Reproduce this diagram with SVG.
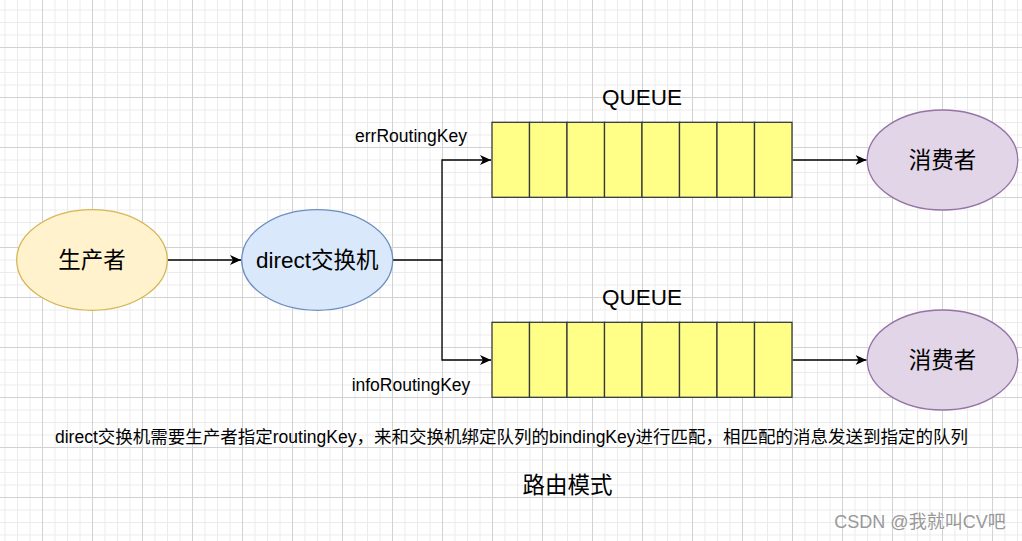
<svg xmlns="http://www.w3.org/2000/svg" width="1022" height="541" viewBox="0 0 1022 541">
<style>
.t{font-family:"Liberation Sans","Noto Sans CJK SC",sans-serif;fill:#000;text-anchor:middle}
.edge{fill:none;stroke:#000;stroke-width:1.3}
.cell{fill:#ffff88;stroke:#36393d;stroke-width:1.3}
.g{fill:none;shape-rendering:crispEdges}
</style>
<defs>
<pattern id="minor" x="4.5" y="9.5" width="12.5" height="12.5" patternUnits="userSpaceOnUse">
<path class="g" d="M0 0.5H12.5M0.5 0V12.5" stroke="#ebebeb" stroke-width="1"/>
</pattern>
<pattern id="major" x="42" y="47" width="50" height="50" patternUnits="userSpaceOnUse">
<path class="g" d="M0 0.5H50M0.5 0V50" stroke="#d2d2d2" stroke-width="1"/>
</pattern>
<marker id="arr" markerWidth="12" markerHeight="10" refX="11" refY="5" orient="auto" markerUnits="userSpaceOnUse">
<path d="M0 0L11 5L0 10L3 5Z" fill="#000"/>
</marker>
</defs>
<rect width="1022" height="541" fill="#fff"/>
<rect width="1022" height="541" fill="url(#minor)"/>
<rect width="1022" height="541" fill="url(#major)"/>

<g id="connectors">
<path class="edge" d="M167.5 260H241" marker-end="url(#arr)"/>
<path class="edge" d="M392.5 260H442V160H491" marker-end="url(#arr)"/>
<path class="edge" d="M442 260V360H491" marker-end="url(#arr)"/>
<path class="edge" d="M792.5 160H866.5" marker-end="url(#arr)"/>
<path class="edge" d="M792.5 360H866.5" marker-end="url(#arr)"/>
</g>

<g id="producer">
<ellipse cx="92" cy="260" rx="75.3" ry="50.3" fill="#fff2cc" stroke="#d6b656" stroke-width="1.3"/>
<text class="t" x="92" y="268" font-size="22.5">生产者</text>
</g>

<g id="exchange">
<ellipse cx="317.2" cy="260" rx="75.5" ry="50.3" fill="#dae8fc" stroke="#6c8ebf" stroke-width="1.3"/>
<text class="t" x="317.2" y="268" font-size="22.5">direct交换机</text>
</g>

<g id="queue1">
<rect class="cell" x="492" y="122.3" width="37.5" height="75"/>
<rect class="cell" x="529.5" y="122.3" width="37.5" height="75"/>
<rect class="cell" x="567" y="122.3" width="37.5" height="75"/>
<rect class="cell" x="604.5" y="122.3" width="37.5" height="75"/>
<rect class="cell" x="642" y="122.3" width="37.5" height="75"/>
<rect class="cell" x="679.5" y="122.3" width="37.5" height="75"/>
<rect class="cell" x="717" y="122.3" width="37.5" height="75"/>
<rect class="cell" x="754.5" y="122.3" width="37.5" height="75"/>
<text class="t" x="642" y="105" font-size="22.5">QUEUE</text>
</g>

<g id="queue2">
<rect class="cell" x="492" y="322.3" width="37.5" height="75"/>
<rect class="cell" x="529.5" y="322.3" width="37.5" height="75"/>
<rect class="cell" x="567" y="322.3" width="37.5" height="75"/>
<rect class="cell" x="604.5" y="322.3" width="37.5" height="75"/>
<rect class="cell" x="642" y="322.3" width="37.5" height="75"/>
<rect class="cell" x="679.5" y="322.3" width="37.5" height="75"/>
<rect class="cell" x="717" y="322.3" width="37.5" height="75"/>
<rect class="cell" x="754.5" y="322.3" width="37.5" height="75"/>
<text class="t" x="642" y="305" font-size="22.5">QUEUE</text>
</g>

<g id="consumer1">
<ellipse cx="942.5" cy="160" rx="75.3" ry="50" fill="#e1d5e7" stroke="#9673a6" stroke-width="1.3"/>
<text class="t" x="942.5" y="168" font-size="22.5">消费者</text>
</g>

<g id="consumer2">
<ellipse cx="942.5" cy="360" rx="75.3" ry="50" fill="#e1d5e7" stroke="#9673a6" stroke-width="1.3"/>
<text class="t" x="942.5" y="368" font-size="22.5">消费者</text>
</g>

<g id="labels">
<text class="t" x="411" y="142" font-size="17.5">errRoutingKey</text>
<text class="t" x="411" y="391" font-size="17.5">infoRoutingKey</text>
<text class="t" x="511.5" y="443" font-size="17.5">direct交换机需要生产者指定routingKey，来和交换机绑定队列的bindingKey进行匹配，相匹配的消息发送到指定的队列</text>
<text class="t" x="567.5" y="493" font-size="22.5">路由模式</text>
<text class="t" x="920" y="528" font-size="18" style="fill:#999">CSDN @我就叫CV吧</text>
</g>
</svg>
